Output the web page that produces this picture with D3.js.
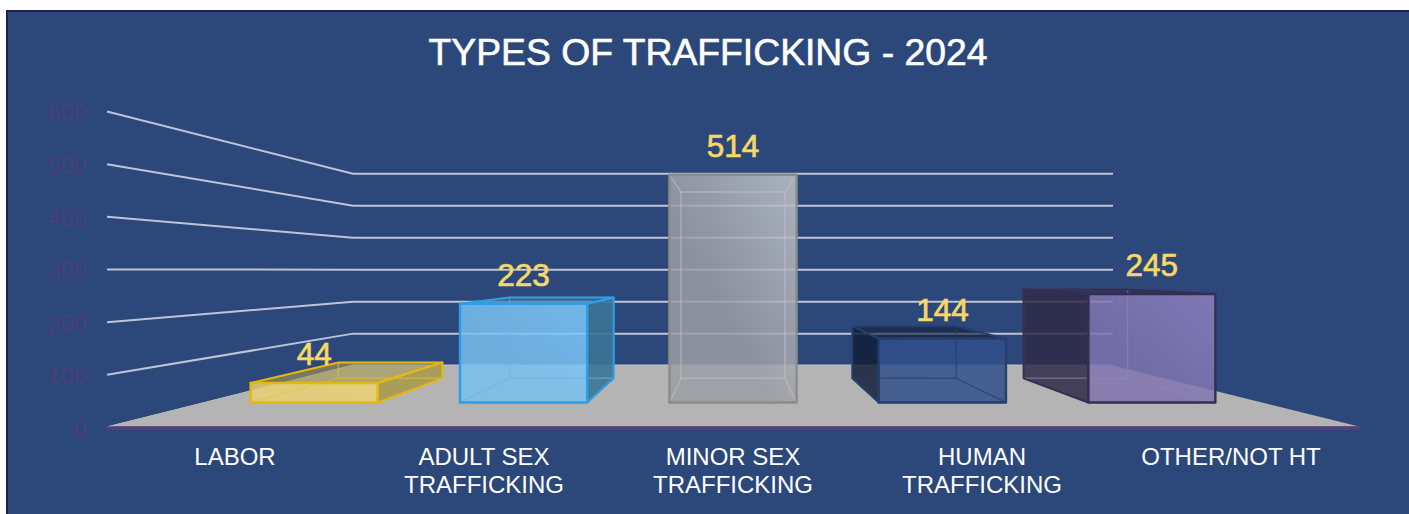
<!DOCTYPE html>
<html><head><meta charset="utf-8">
<script src="https://cdn.jsdelivr.net/npm/d3@7/dist/d3.min.js"></script>
<style>html,body{margin:0;padding:0;background:#fff}svg{display:block}text{font-family:"Liberation Sans",Arial,sans-serif}</style>
</head><body><svg id="c" width="1409" height="514"></svg>
<script>
const title = "TYPES OF TRAFFICKING - 2024";
const categories = ["LABOR","ADULT SEX TRAFFICKING","MINOR SEX TRAFFICKING","HUMAN TRAFFICKING","OTHER/NOT HT"];
const values = [44,223,514,144,245];
const yTicks = [0,100,200,300,400,500,600];

const barFill = ["#ebd272","#7ac2f2","#a6a9b0","#30508a","#8478b4"];
const barStroke = ["#e6b80c","#2d9fe8","#8b8b8b","#263f6d","#362e52"];
const barSide = ["#a89a50","#3c7396","#8b8b8b","#121f3a","#2f2b47"];
const barInner = ["#e6c53c","#66b8f0","#c2c4c8","#223a68","#9387be"];
const sheen = [0.02,0.1,0.4,0.05,0.2];

const W=1409,H=514, cx=733, cy=270;
const sBack=0.607, sBarFront=0.841, sBarBack=0.688;
const svg=d3.select("#c");
const y=d3.scaleLinear().domain([0,600]).range([427.5,111.5]);
const x=d3.scaleBand().domain(categories).range([110.5,1355.5]).paddingInner(0.393).paddingOuter(0.1965);
const floorX=d3.scaleLinear().domain([0,1]).range([107,1359]);
const proj=(X,Y,s)=>[cx+(X-cx)*s, cy+(Y-cy)*s];
const poly=pts=>pts.map(p=>p.join(",")).join(" ");

svg.append("rect").attr("x",7).attr("y",11).attr("width",W).attr("height",H)
  .attr("fill","#2c4779").attr("stroke","#231f4c").attr("stroke-width",2);
svg.append("text").attr("x",708).attr("y",65).attr("text-anchor","middle")
  .attr("font-size",37.3).attr("fill","#fff").attr("stroke","#fff").attr("stroke-width",0.6).text(title);

const defs=svg.append("defs");
barFill.forEach((c,i)=>{
  const g=defs.append("linearGradient").attr("id","g"+i).attr("x1","100%").attr("y1","0%").attr("x2","0%").attr("y2","100%");
  g.append("stop").attr("offset","0%").attr("stop-color",d3.color(c).brighter(sheen[i]));
  g.append("stop").attr("offset","60%").attr("stop-color",d3.color(c).darker(sheen[i]*0.5));
  g.append("stop").attr("offset","100%").attr("stop-color",d3.color(c).darker(sheen[i]*0.5));
});

const gridG=svg.append("g");
yTicks.forEach(v=>{
  const p0=[floorX(0),y(v)], p1=proj(floorX(0),y(v),sBack), p2=proj(floorX(1),y(v),sBack);
  gridG.append("polyline").attr("points",poly([p0,p1,p2])).attr("fill","none")
    .attr("stroke","#d2d5e6").attr("stroke-opacity",0.88).attr("stroke-width",2);
});
const fA=[floorX(0),y(0)-1], fB=[floorX(1),y(0)-1];
svg.append("polygon").attr("fill","#b4b4b4").attr("points",poly([fA,proj(floorX(0),y(0),sBack),proj(floorX(1),y(0),sBack),fB]));
svg.append("line").attr("x1",floorX(0)).attr("x2",floorX(1)+1).attr("y1",y(0)+0.5).attr("y2",y(0)+0.5).attr("stroke","#54407c").attr("stroke-width",3.5);

const barsG=svg.append("g");
categories.forEach((c,i)=>{
  const X0=x(c),X1=x(c)+x.bandwidth(),T=y(values[i]),B=y(0);
  const F=(X,Y)=>proj(X,Y,sBarFront), K=(X,Y)=>proj(X,Y,sBarBack);
  const g=barsG.append("g").attr("stroke-linejoin","round");
  const solid=(pts,fill,fo)=>g.append("polygon").attr("points",poly(pts)).attr("fill",fill).attr("fill-opacity",fo);
  const wire=(pts,col,sw,so)=>g.append("polygon").attr("points",poly(pts)).attr("fill","none")
    .attr("stroke",col).attr("stroke-width",sw).attr("stroke-opacity",so);
  const leftVis=X0>cx, rightVis=X1<cx, topVis=T>cy;
  const back=[K(X0,T),K(X1,T),K(X1,B),K(X0,B)];
  const bottom=[F(X0,B),F(X1,B),K(X1,B),K(X0,B)];
  const left=[F(X0,T),K(X0,T),K(X0,B),F(X0,B)];
  const right=[F(X1,T),K(X1,T),K(X1,B),F(X1,B)];
  const top=[F(X0,T),F(X1,T),K(X1,T),K(X0,T)];
  const front=[F(X0,T),F(X1,T),F(X1,B),F(X0,B)];
  if(leftVis) solid(left,barSide[i],0.85);
  if(rightVis) solid(right,barSide[i],0.9);
  if(topVis) solid(top,barSide[i],0.62);
  g.append("polygon").attr("points",poly(front)).attr("fill","url(#g"+i+")").attr("fill-opacity",0.85);
  wire(back,barInner[i],1.5,0.32); wire(bottom,barInner[i],1.5,0.32);
  if(!leftVis) wire(left,barInner[i],1.5,0.32);
  if(!rightVis) wire(right,barInner[i],1.5,0.32);
  if(!topVis) wire(top,barInner[i],1.5,0.32);
  if(leftVis) wire(left,barStroke[i],2,1);
  if(rightVis) wire(right,barStroke[i],2,1);
  if(topVis) wire(top,barStroke[i],2,1);
  wire(front,barStroke[i],2.4,1);
  const mid=F((X0+X1)/2,T);
  svg.append("text").attr("class","dl").attr("x",mid[0]).attr("y",mid[1]-18).attr("text-anchor","middle")
    .attr("font-size",31.5).attr("fill","#f6d868").attr("stroke","#f6d868").attr("stroke-width",0.7).text(values[i]);
});
svg.selectAll("text.dl").raise();

const yAxis=svg.append("g").attr("transform","translate(93,1.5)")
  .call(d3.axisLeft(y).tickValues(yTicks).tickSize(0).tickPadding(6));
yAxis.select(".domain").remove();
yAxis.selectAll("text").attr("font-size",23.5).attr("font-family",null).attr("fill","#4a3f78");

const xAxis=svg.append("g").attr("transform","translate(0,446)")
  .call(d3.axisBottom(x).tickSize(0).tickPadding(0));
xAxis.select(".domain").remove();
xAxis.selectAll("text").attr("font-size",24).attr("font-family",null).attr("fill","#fff").each(function(d){
  const t=d3.select(this); const words=d.split(" "); t.text(null);
  const lines=[]; let cur=[];
  const test=t.append("tspan");
  words.forEach(w=>{ test.text([...cur,w].join(" "));
    if(this.getComputedTextLength()>205&&cur.length){lines.push(cur.join(" "));cur=[w];} else cur.push(w);});
  lines.push(cur.join(" ")); test.remove();
  lines.forEach((l,k)=>t.append("tspan").attr("x",0).attr("y",k*28).attr("dy","0.8em").text(l));
});
</script></body></html>
